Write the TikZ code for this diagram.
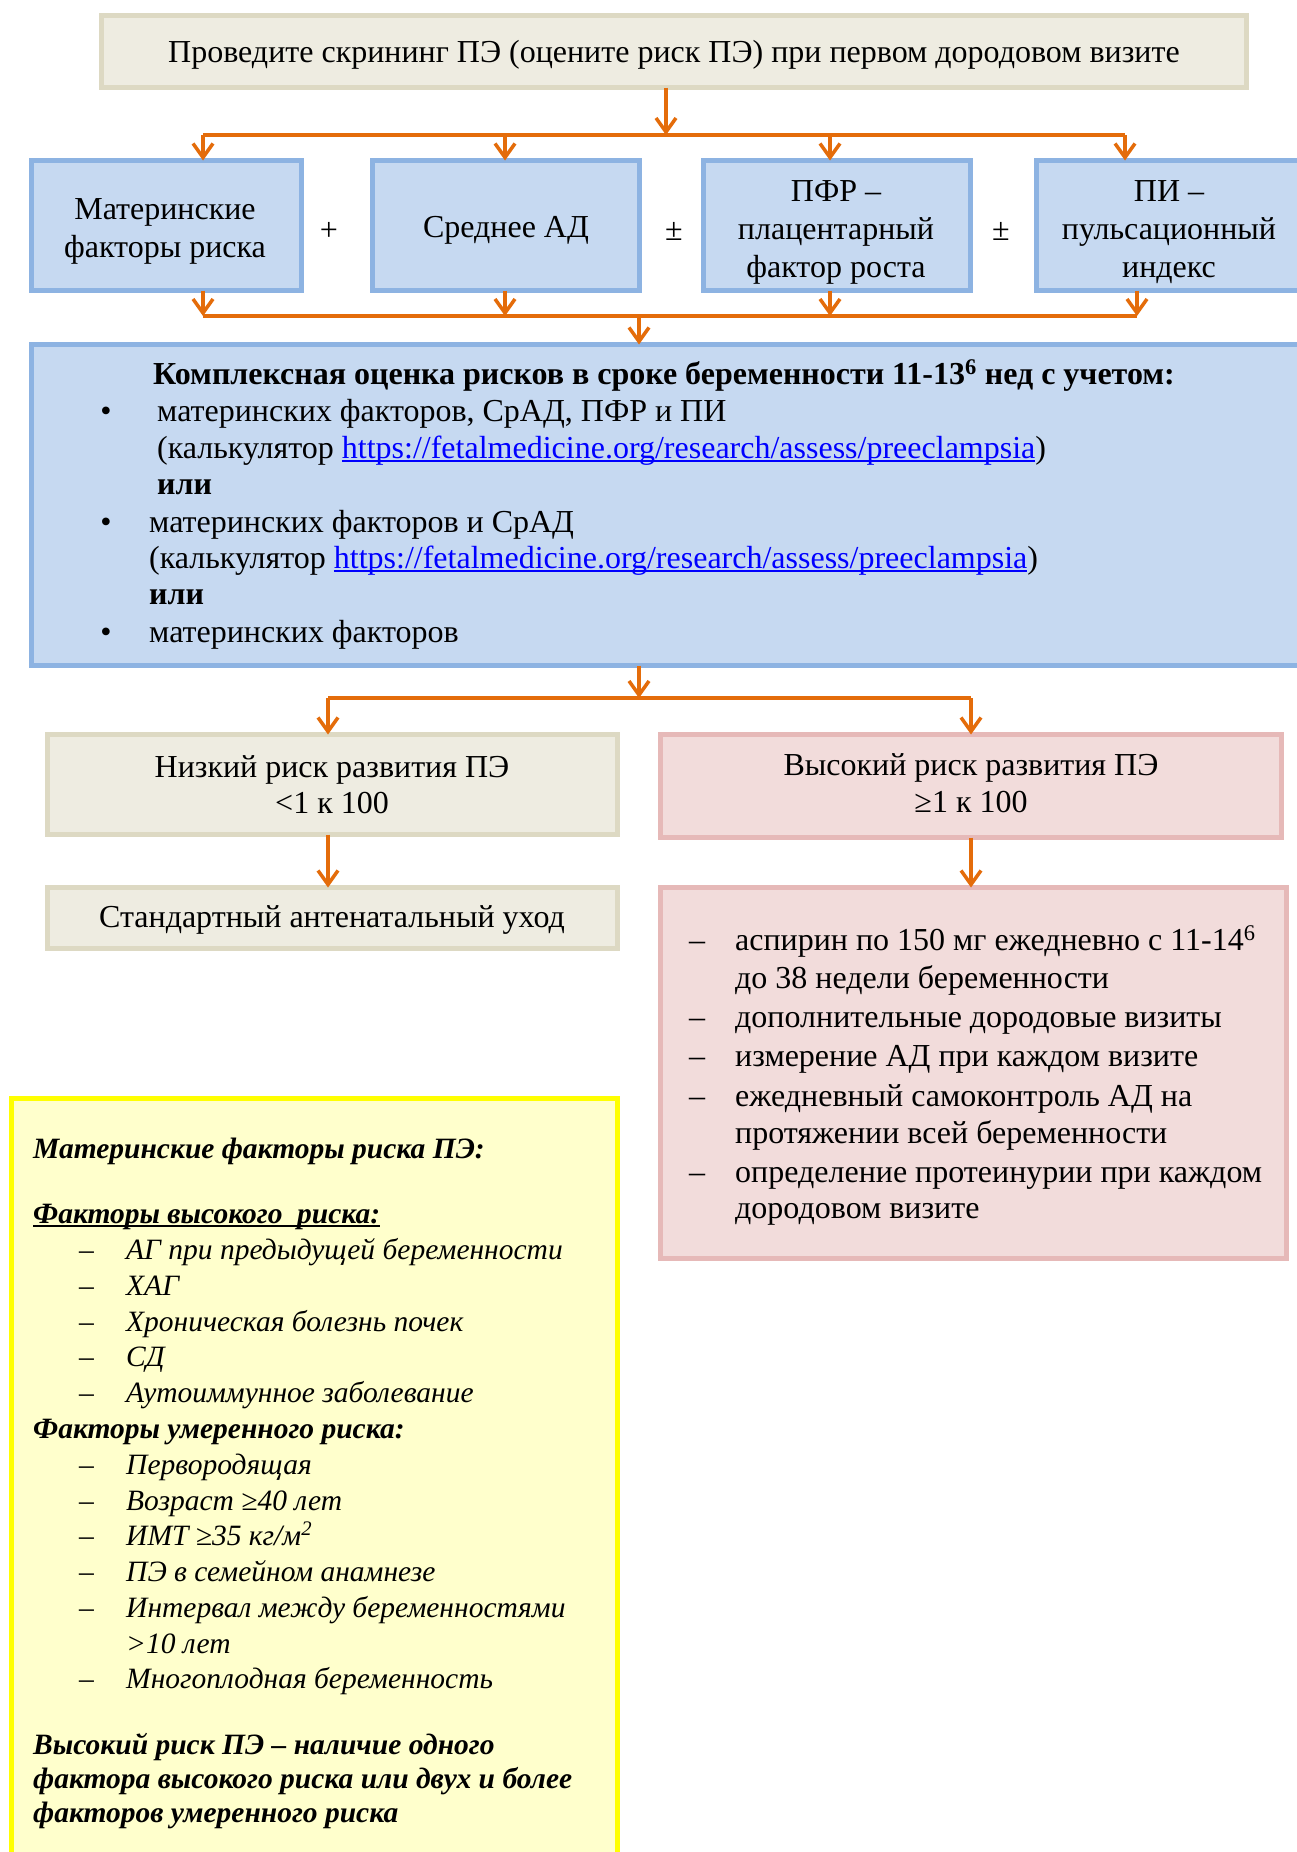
\documentclass[tikz,border=0pt]{standalone}
\usepackage{fontspec}
\setmainfont{Liberation Serif}
\usetikzlibrary{arrows.meta}
\definecolor{beigefill}{HTML}{EEECE1}
\definecolor{beigeline}{HTML}{DDD9C3}
\definecolor{bluefill}{HTML}{C6D9F1}
\definecolor{blueline}{HTML}{8DB3E2}
\definecolor{pinkfill}{HTML}{F2DCDB}
\definecolor{pinkline}{HTML}{E6B9B8}
\definecolor{yelfill}{HTML}{FFFFCC}
\definecolor{yelline}{HTML}{FFFF00}
\definecolor{arrcol}{HTML}{E46C0A}
\definecolor{linkblue}{HTML}{0000FF}
\newcommand\thickul[1]{\setbox0\hbox{#1}\rlap{\raisebox{-4pt}{\rule{\wd0}{2pt}}}\box0}
\newcommand\weblink[1]{\textcolor{linkblue}{\thickul{#1}}}
\tikzset{
  box/.style={draw, line width=5pt, inner sep=0pt, outer sep=0pt},
  beigebox/.style={box, draw=beigeline, fill=beigefill},
  bluebox/.style={box, draw=blueline, fill=bluefill},
  pinkbox/.style={box, draw=pinkline, fill=pinkfill},
  yelbox/.style={box, draw=yelline, fill=yelfill},
  conn/.style={draw=arrcol, line width=4pt},
  arrow/.style={conn, -{Straight Barb[length=14pt,width=20pt,line width=3.5pt]}},
  txt/.style={inner sep=0pt, font=\fontsize{32}{38}\selectfont},
  ytxt/.style={inner sep=0pt, font=\fontsize{29.5}{36}\selectfont\itshape},
}
\begin{document}
\begin{tikzpicture}[x=1pt,y=-1pt]
\path[fill=white,use as bounding box] (0,0) rectangle (1297,1852);

% boxes
\node[beigebox, minimum width=1145pt, minimum height=72pt] (top) at (674,51.5) {};
\node[bluebox, minimum width=270pt, minimum height=130pt] (b1) at (166.5,225.5) {};
\node[bluebox, minimum width=267pt, minimum height=130pt] (b2) at (506,225.5) {};
\node[bluebox, minimum width=267pt, minimum height=130pt] (b3) at (837,225.5) {};
\node[bluebox, minimum width=271pt, minimum height=130pt] (b4) at (1172,225.5) {};
\node[bluebox, minimum width=1286pt, minimum height=321pt] (big) at (674.5,505) {};
\node[beigebox, minimum width=570pt, minimum height=100pt] (low) at (332.5,784.5) {};
\node[pinkbox, minimum width=621pt, minimum height=103pt] (high) at (971,786) {};
\node[beigebox, minimum width=570pt, minimum height=61pt] (std) at (332.5,918) {};
\node[pinkbox, minimum width=626pt, minimum height=371pt] (list) at (973.5,1073) {};
\node[yelbox, minimum width=606pt, minimum height=770pt] (yel) at (314,1483) {};

% connectors
\coordinate (j1) at (666,135);
\coordinate (a1) at (203,135);
\coordinate (a2) at (505,135);
\coordinate (a3) at (830,135);
\coordinate (a4) at (1125,135);
\draw[arrow] (top.south -| j1) -- (j1);
\draw[conn] (a1) -- (a4);
\draw[arrow] (a1) -- (a1 |- b1.north);
\draw[arrow] (a2) -- (a2 |- b2.north);
\draw[arrow] (a3) -- (a3 |- b3.north);
\draw[arrow] (a4) -- (a4 |- b4.north);

\coordinate (c1) at (203,316);
\coordinate (c2) at (505,316);
\coordinate (c3) at (830,316);
\coordinate (c4) at (1137,316);
\coordinate (j2) at (639,316);
\draw[arrow] (c1 |- b1.south) -- (c1);
\draw[arrow] (c2 |- b2.south) -- (c2);
\draw[arrow] (c3 |- b3.south) -- (c3);
\draw[arrow] (c4 |- b4.south) -- (c4);
\draw[conn] (c1) -- (c4);
\draw[arrow] (j2) -- (j2 |- big.north);

\coordinate (j3) at (639,698);
\coordinate (d1) at (328,698);
\coordinate (d2) at (971,698);
\draw[arrow] (j3 |- big.south) -- (j3);
\draw[conn] (d1) -- (d2);
\draw[arrow] (d1) -- (d1 |- low.north);
\draw[arrow] (d2) -- (d2 |- high.north);
\draw[arrow] (d1 |- low.south) -- (d1 |- std.north);
\draw[arrow] (d2 |- high.south) -- (d2 |- list.north);

% top text
\node[txt, anchor=base] (t0) at (674,63) {Проведите скрининг ПЭ (оцените риск ПЭ) при первом дородовом визите};

% blue boxes text
\node[txt, anchor=base] (m1) at (165,219) {Материнские};
\node[txt, anchor=base] (m2) at (165,257) {факторы риска};
\node[txt, anchor=base] (s1) at (506,237) {Среднее АД};
\node[txt, anchor=base] (p1) at (836,201) {ПФР –};
\node[txt, anchor=base] (p2) at (836,239) {плацентарный};
\node[txt, anchor=base] (p3) at (836,277) {фактор роста};
\node[txt, anchor=base] (i1) at (1169,201) {ПИ –};
\node[txt, anchor=base] (i2) at (1169,239) {пульсационный};
\node[txt, anchor=base] (i3) at (1169,277) {индекс};
\node[txt, anchor=base] (op1) at (329,240) {+};
\node[txt, anchor=base] (op2) at (674,240) {±};
\node[txt, anchor=base] (op3) at (1001,240) {±};

% big box text
\node[txt, anchor=base west] (k0) at (153,384) {\bfseries Комплексная оценка рисков в сроке беременности 11-13\textsuperscript{6} нед с учетом:};
\node[txt, anchor=base] (bu1) at (106,421) {•};
\node[txt, anchor=base west] (k1) at (157,421) {материнских факторов, СрАД, ПФР и ПИ};
\node[txt, anchor=base west] (k2) at (157,458) {(калькулятор \weblink{https://fetalmedicine.org/research/assess/preeclampsia})};
\node[txt, anchor=base west] (k3) at (157,494) {\bfseries или};
\node[txt, anchor=base] (bu2) at (106,532) {•};
\node[txt, anchor=base west] (k4) at (149,532) {материнских факторов и СрАД};
\node[txt, anchor=base west] (k5) at (149,568) {(калькулятор \weblink{https://fetalmedicine.org/research/assess/preeclampsia})};
\node[txt, anchor=base west] (k6) at (149,604) {\bfseries или};
\node[txt, anchor=base] (bu3) at (106,642) {•};
\node[txt, anchor=base west] (k7) at (149,642) {материнских факторов};

% risk boxes text
\node[txt, anchor=base] (l1) at (332,777) {Низкий риск развития ПЭ};
\node[txt, anchor=base] (l2) at (332,813) {<1 к 100};
\node[txt, anchor=base] (h1) at (971,775) {Высокий риск развития ПЭ};
\node[txt, anchor=base] (h2) at (971,812) {≥1 к 100};
\node[txt, anchor=base] (st) at (332,927) {Стандартный антенатальный уход};

% list text
\node[txt, anchor=base west] (ld1) at (689,950) {–};
\node[txt, anchor=base west] (lt1) at (735,950) {аспирин по 150 мг ежедневно с 11-14\textsuperscript{6}};
\node[txt, anchor=base west] (lt2) at (735,988) {до 38 недели беременности};
\node[txt, anchor=base west] (ld3) at (689,1027) {–};
\node[txt, anchor=base west] (lt3) at (735,1027) {дополнительные дородовые визиты};
\node[txt, anchor=base west] (ld4) at (689,1066) {–};
\node[txt, anchor=base west] (lt4) at (735,1066) {измерение АД при каждом визите};
\node[txt, anchor=base west] (ld5) at (689,1106) {–};
\node[txt, anchor=base west] (lt5) at (735,1106) {ежедневный самоконтроль АД на};
\node[txt, anchor=base west] (lt6) at (735,1143) {протяжении всей беременности};
\node[txt, anchor=base west] (ld7) at (689,1182) {–};
\node[txt, anchor=base west] (lt7) at (735,1182) {определение протеинурии при каждом};
\node[txt, anchor=base west] (lt8) at (735,1218) {дородовом визите};

% yellow box text
\node[ytxt, anchor=base west] (y0) at (33,1158) {\bfseries Материнские факторы риска ПЭ:};
\node[ytxt, anchor=base west] (y1) at (33,1223) {\bfseries\thickul{Факторы высокого\ \ риска:}};
\node[ytxt, anchor=base west] (yd2) at (79,1259) {–};
\node[ytxt, anchor=base west] (y2) at (126,1259) {АГ при предыдущей беременности};
\node[ytxt, anchor=base west] (yd3) at (79,1295) {–};
\node[ytxt, anchor=base west] (y3) at (126,1295) {ХАГ};
\node[ytxt, anchor=base west] (yd4) at (79,1331) {–};
\node[ytxt, anchor=base west] (y4) at (126,1331) {Хроническая болезнь почек};
\node[ytxt, anchor=base west] (yd5) at (79,1366) {–};
\node[ytxt, anchor=base west] (y5) at (126,1366) {СД};
\node[ytxt, anchor=base west] (yd6) at (79,1402) {–};
\node[ytxt, anchor=base west] (y6) at (126,1402) {Аутоиммунное заболевание};
\node[ytxt, anchor=base west] (y7) at (33,1438) {\bfseries Факторы умеренного риска:};
\node[ytxt, anchor=base west] (yd8) at (79,1474) {–};
\node[ytxt, anchor=base west] (y8) at (126,1474) {Первородящая};
\node[ytxt, anchor=base west] (yd9) at (79,1510) {–};
\node[ytxt, anchor=base west] (y9) at (126,1510) {Возраст ≥40 лет};
\node[ytxt, anchor=base west] (yd10) at (79,1545) {–};
\node[ytxt, anchor=base west] (y10) at (126,1545) {ИМТ ≥35 кг/м\textsuperscript{2}};
\node[ytxt, anchor=base west] (yd11) at (79,1581) {–};
\node[ytxt, anchor=base west] (y11) at (126,1581) {ПЭ в семейном анамнезе};
\node[ytxt, anchor=base west] (yd12) at (79,1617) {–};
\node[ytxt, anchor=base west] (y12) at (126,1617) {Интервал между беременностями};
\node[ytxt, anchor=base west] (y13) at (126,1653) {>10 лет};
\node[ytxt, anchor=base west] (yd14) at (79,1688) {–};
\node[ytxt, anchor=base west] (y14) at (126,1688) {Многоплодная беременность};
\node[ytxt, anchor=base west] (y15) at (33,1754) {\bfseries Высокий риск ПЭ – наличие одного};
\node[ytxt, anchor=base west] (y16) at (33,1788) {\bfseries фактора высокого риска или двух и более};
\node[ytxt, anchor=base west] (y17) at (33,1822) {\bfseries факторов умеренного риска};
\end{tikzpicture}
\end{document}
